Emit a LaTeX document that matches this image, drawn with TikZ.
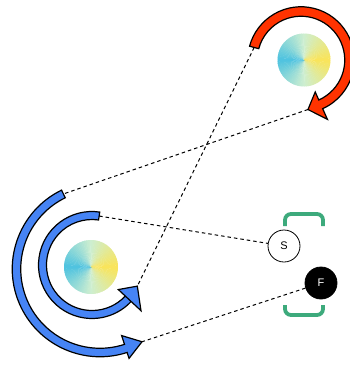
\documentclass[tikz,border=0pt]{standalone}
\usepackage{fontspec}
\newfontfamily\labfont{Liberation Sans}
\definecolor{redc}{RGB}{255,51,0}
\definecolor{bluec}{RGB}{70,132,245}
\definecolor{greenc}{RGB}{61,170,124}
\definecolor{diskblue}{RGB}{76,194,224}
\definecolor{diskpale}{RGB}{205,238,208}
\definecolor{diskyellow}{RGB}{250,228,88}
\newcommand\conicdisk[3]{%
  \foreach \a in {0,4,...,356}{%
    \pgfmathtruncatemacro\d{abs(\a+2-180)}%
    \ifnum\d<90
      \pgfmathtruncatemacro\p{100-\d*100/90}\def\cc{diskblue!\p!diskpale}%
    \else
      \pgfmathtruncatemacro\p{(\d-90)*100/90}\def\cc{diskyellow!\p!diskpale}%
    \fi
    \fill[\cc] (#1,#2) -- ++(\a:#3) arc[start angle=\a, end angle=\a+5, radius=#3] -- cycle;
  }}
\tikzset{
  band/.style={draw=black, line width=1.2pt, line join=miter},
  link/.style={draw=black, line width=1pt, dash pattern=on 3.5pt off 3pt},
  bracket/.style={draw=greenc, line width=3.8pt, rounded corners=6pt},
  dot/.style={circle, draw=black, line width=0.8pt, minimum size=32pt, inner sep=0pt, font=\labfont\fontsize{11}{11}\selectfont}
}
\begin{document}
\begin{tikzpicture}[x=1pt, y=-1pt]
\useasboundingbox (0,0) rectangle (350,365);
% disks
\conicdisk{304}{60}{26.5}
\conicdisk{91}{267}{27}
% end coordinates of bands
\begin{scope}[shift={(301,60)}]
  \coordinate (rs) at (-165:48.5);
  \coordinate (rt) at (82:50);
\end{scope}
\begin{scope}[shift={(92,265)}]
  \coordinate (is) at (-81.7:49.5);
  \coordinate (it) at (-335:50);
\end{scope}
\begin{scope}[shift={(100,269)}]
  \coordinate (os) at (-116:83.5);
  \coordinate (ot) at (-300:84);
\end{scope}
% nodes
\node[dot, fill=white] (S) at (284,246) {S};
\node[dot, fill=black, text=white] (F) at (321,283) {F};
% dashed links
\draw[link] (rs) -- (it);
\draw[link] (rt) -- (os);
\draw[link] (is) -- (S);
\draw[link] (F) -- (ot);
% red band
\begin{scope}[shift={(301,60)}]
  \draw[band, fill=redc] (-165:53.25) arc[start angle=-165, end angle=66, radius=53.25]
    -- (66:65) -- (82:50) -- (66:35) -- (66:43.75)
    arc[start angle=66, end angle=-165, radius=43.75] -- cycle;
\end{scope}
% inner blue band
\begin{scope}[shift={(92,265)}]
  \draw[band, fill=bluec] (-81.7:53.5) arc[start angle=-81.7, end angle=-317, radius=53.5]
    -- (-317:36) -- (-335:50) -- (-317:67) -- (-317:45.5)
    arc[start angle=-317, end angle=-81.7, radius=45.5] -- cycle;
\end{scope}
% outer blue band
\begin{scope}[shift={(100,269)}]
  \draw[band, fill=bluec] (-116:87.75) arc[start angle=-116, end angle=-288, radius=87.75]
    -- (-288:94) -- (-300:84) -- (-288:70) -- (-288:79.25)
    arc[start angle=-288, end angle=-116, radius=79.25] -- cycle;
\end{scope}
% green brackets
\draw[bracket] (285,226) -- (285,214) -- (323,214) -- (323,226);
\draw[bracket] (285,305) -- (285,315) -- (323,315) -- (323,305);
\end{tikzpicture}
\end{document}
